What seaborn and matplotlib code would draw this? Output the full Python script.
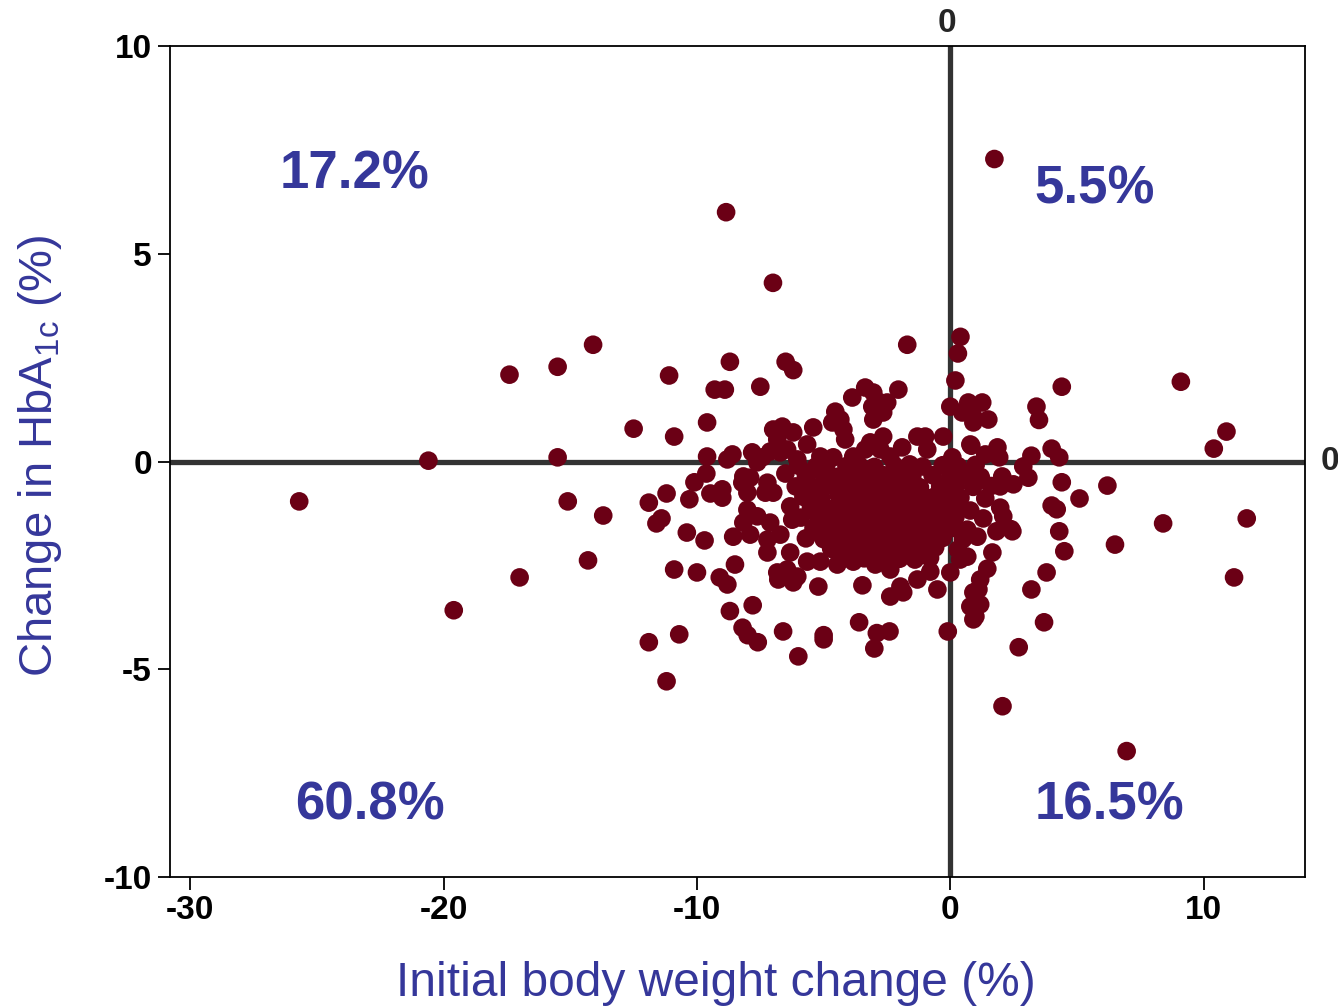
import matplotlib
matplotlib.use("Agg")
import matplotlib.pyplot as plt
import seaborn as sns
import pandas as pd

# Outlying patients (weight change %, HbA1c change %)
outer_x = [-25.7, -20.6, -19.6, -17.4, -17.0, -15.5, -15.5, -15.1, -14.3, -14.1,
           -13.7, -12.5, -11.9, -11.9, -11.6, -11.4, -11.2, -11.2, -11.1, -10.9,
           -10.9, -10.7, -10.4, -10.3, -10.1, -10.0, -9.7, -9.6, -9.6, -9.3,
           -9.1, -8.9, -8.85, -8.8, -8.7, -8.7, -8.5, -8.6, -8.2, -8.0,
           -7.8, -7.6, -7.5, -7.0, -6.6, -6.5, -6.2, -6.0, -5.0, -5.0,
           -3.6, -3.0, -2.9, -2.4, -1.7, -0.1, 0.4, 0.3, 0.2, 1.74,
           2.06, 6.96, 9.1, 10.4, 10.9, 11.2, 11.7, 8.4, 6.5, 6.2,
           5.1, 4.4, 4.5, 4.4, 4.3, 4.3, 4.2, 4.0, 4.0, 3.8,
           3.7, 3.5, 3.4, 3.2, 2.7, 2.4]
outer_y = [-0.96, 0.02, -3.58, 2.09, -2.79, 0.10, 2.28, -0.96, -2.38, 2.81,
           -1.30, 0.79, -4.35, -0.99, -1.49, -1.37, -5.29, -0.77, 2.07, -2.60,
           0.60, -4.16, -1.71, -0.91, -0.50, -2.67, -1.90, 0.12, 0.94, 1.73,
           -2.79, 1.73, 6.00, -2.96, -3.60, 2.40, -2.48, 0.17, -4.00, -4.18,
           -3.46, -4.35, 1.80, 4.30, -4.09, 2.40, 2.20, -4.69, -4.18, -4.28,
           -3.87, -4.50, -4.13, -4.09, 2.81, -4.09, 3.00, 2.60, 1.95, 7.28,
           -5.89, -6.97, 1.92, 0.31, 0.72, -2.79, -1.37, -1.49, -2.00, -0.58,
           -0.89, 1.80, -2.16, -0.50, 0.10, -1.68, -1.15, -1.06, 0.31, -2.67,
           -3.87, 1.00, 1.32, -3.08, -4.47, -1.63]

# Patients around the edge of the main cluster
edge_x = [-9.63, -8.80, -7.82, -7.62, -7.42, -6.99, -6.63, -6.83, -6.20, -7.11,
          -6.71, -6.44, -6.04, -6.51, -8.17, -8.21, -7.90, -8.01, -7.22, -7.30,
          -6.99, -9.47, -9.00, -9.00, -6.32, -6.24, -8.01, -7.62, -7.11, -8.17,
          -8.57, -7.90, -7.22, -6.71, -7.22, -6.32, -6.83, -6.44, -6.04, -6.79,
          -6.20, -5.65, -5.13, -5.21, -4.46, -3.83, -3.47, -2.96, -2.37, -2.37,
          -1.86, -1.97, -1.30, -0.79, -0.51, 0.00, 0.67, 0.39, 0.91, 0.79,
          0.91, 1.18, 0.99, 1.11, 1.18, 1.46, 1.66, -3.36, -2.05, -3.87,
          -3.04, -2.76, -3.08, -2.49, -3.04, -2.65, -4.54, -4.34, -4.66, -4.22,
          -4.15, -5.41, -2.65, -3.16, -1.30, -0.99, -0.28, -1.90, -0.91, -5.65,
          -5.13, -4.62, -3.83, -3.36, -2.76, -2.37, 0.00, 0.47, 0.71, 0.91,
          0.79, 0.08, 1.26, 0.91, 1.50, 0.83, 1.86, 1.93, 1.38, 3.20,
          2.88, 3.08, 2.05, 1.97, 2.49, 1.38, 0.79, 1.97, 2.09, 2.45,
          1.82, 1.07, 0.67]
edge_y = [-0.29, 0.05, 0.22, -0.02, 0.10, 0.77, 0.84, 0.53, 0.70, 0.24,
          0.22, 0.29, 0.05, -0.29, -0.36, -0.51, -0.39, -0.75, -0.51, -0.75,
          -0.75, -0.77, -0.67, -0.87, -1.08, -1.40, -1.16, -1.32, -1.47, -1.47,
          -1.81, -1.76, -1.88, -1.76, -2.19, -2.19, -2.67, -2.60, -2.77, -2.84,
          -2.91, -2.41, -2.41, -3.01, -2.48, -2.41, -2.98, -2.48, -2.60, -3.25,
          -3.15, -3.01, -2.84, -2.65, -3.08, -2.67, -2.29, -2.36, -3.15, -3.49,
          -3.80, -3.44, -3.73, -3.08, -2.84, -2.58, -2.19, 1.78, 1.73, 1.54,
          1.66, 1.42, 1.32, 1.42, 1.01, 1.18, 1.20, 1.01, 0.94, 0.77,
          0.53, 0.82, 0.60, 0.46, 0.60, 0.60, 0.60, 0.34, 0.29, 0.41,
          0.12, 0.10, 0.12, 0.29, 0.29, 0.12, 1.32, 1.18, 1.42, 1.08,
          0.41, 0.10, 1.42, 0.94, 1.01, 0.38, 0.34, 0.10, 0.17, 0.14,
          -0.12, -0.39, -0.36, -0.60, -0.55, -0.89, -1.18, -1.11, -1.32, -1.68,
          -1.68, -1.81, -1.64]

# Patients in the dense core of the cluster
core_x = [-6.0, -5.3, -4.9, -4.1, -3.6, -3.0, -2.2, -1.6, -1.1, -0.3, 0.3, 1.0,
          -5.7, -5.0, -4.5, -4.0, -3.3, -2.7, -2.0, -1.5, -0.7, 0.0, 0.6, 1.2,
          -6.1, -5.4, -4.8, -4.2, -3.7, -3.1, -2.5, -1.8, -1.2, -0.4, 0.2, 0.9, 1.6,
          -5.8, -5.1, -4.4, -3.9, -3.4, -2.8, -2.2, -1.6, -1.0, -0.6, 0.4,
          -5.5, -4.9, -4.3, -3.6, -3.0, -2.4, -1.9, -1.3, -0.8, -0.2, 0.3,
          -5.9, -5.2, -4.6, -4.1, -3.4, -2.7, -2.1, -1.5, -0.9, -0.4, 0.2, 1.3,
          -5.4, -4.8, -4.3, -3.7, -3.1, -2.5, -1.9, -1.2, -0.6, 0.1,
          -5.7, -5.0, -4.4, -3.9, -3.3, -2.8, -2.2, -1.6, -0.9, -0.3, 0.5,
          -4.7, -4.1, -3.6, -3.0, -2.4, -1.8, -1.2, -0.6, 0.3,
          -4.3, -3.4, -2.7, -2.0, -1.4, -0.8,
          -2.6, -1.7, -3.2, -0.5, -4.8, -2.9, -1.3, -3.8, -2.1, -0.1]
core_y = [-0.10, -0.12, -0.08, -0.11, -0.09, -0.13, -0.10, -0.07, -0.12, -0.09, -0.11, -0.08,
          -0.35, -0.33, -0.37, -0.34, -0.36, -0.32, -0.38, -0.35, -0.33, -0.36, -0.34, -0.37,
          -0.60, -0.62, -0.58, -0.61, -0.59, -0.63, -0.60, -0.57, -0.62, -0.60, -0.58, -0.61, -0.59,
          -0.85, -0.87, -0.83, -0.86, -0.84, -0.88, -0.85, -0.82, -0.86, -0.84, -0.87,
          -1.10, -1.12, -1.08, -1.11, -1.09, -1.13, -1.10, -1.07, -1.12, -1.09, -1.11,
          -1.35, -1.33, -1.37, -1.34, -1.36, -1.32, -1.38, -1.35, -1.33, -1.36, -1.34, -1.37,
          -1.60, -1.62, -1.58, -1.61, -1.59, -1.63, -1.60, -1.57, -1.62, -1.60,
          -1.85, -1.87, -1.83, -1.86, -1.84, -1.88, -1.85, -1.82, -1.86, -1.84, -1.87,
          -2.10, -2.12, -2.08, -2.11, -2.09, -2.13, -2.10, -2.07, -2.12,
          -2.35, -2.33, -2.37, -2.34, -2.36, -2.32,
          -0.48, -0.72, -0.98, -1.22, -1.48, -1.72, -1.97, -0.22, -2.25, -0.75]

# Share of patients in each quadrant
quad_labels = ["17.2%", "5.5%", "60.8%", "16.5%"]
quad_x = [-23.5, 5.7, -22.9, 6.3]
quad_y = [6.90, 6.55, -8.28, -8.28]

df = pd.DataFrame({
    "weight": outer_x + edge_x + core_x,
    "hba1c": outer_y + edge_y + core_y,
})

sns.set_theme(style="ticks")
plt.rcParams["font.family"] = ["Liberation Sans", "DejaVu Sans"]
plt.rcParams["mathtext.fontset"] = "custom"
plt.rcParams["mathtext.rm"] = "Liberation Sans"
plt.rcParams["axes.unicode_minus"] = False

W, H = 1338, 1007
fig = plt.figure(figsize=(W / 100, H / 100), dpi=100)
ax = fig.add_axes([170 / W, 1 - 877 / H, (1305 - 170) / W, (877 - 46) / H])

line_col = "#333333"
ax.axhline(0, color=line_col, lw=3.8, zorder=1)
ax.axvline(0, color=line_col, lw=3.8, zorder=1)

sns.scatterplot(data=df, x="weight", y="hba1c", ax=ax, color="#6b0015",
                s=180, edgecolor="none", linewidth=0, zorder=3, legend=False)

ax.set_xlim(-30.8, 14.0)
ax.set_ylim(-10, 10)
ax.set_xticks([-30, -20, -10, 0, 10])
ax.set_yticks([-10, -5, 0, 5, 10])
ax.tick_params(direction="out", length=9, width=1.3, labelsize=24, colors="black", pad=4)
for lab in ax.get_xticklabels() + ax.get_yticklabels():
    lab.set_fontweight("bold")
for sp in ax.spines.values():
    sp.set_visible(True)
    sp.set_linewidth(1.3)
    sp.set_color("black")

label_col = "#35379a"
ax.set_xlabel("Initial body weight change (%)", fontsize=34.5, color=label_col)
ax.set_ylabel(r"Change in HbA$_{\mathregular{1c}}$ (%)", fontsize=34, color=label_col)
ax.xaxis.set_label_coords((716 - 170) / 1135, (877 - 983) / 831)
ax.xaxis.label.set_va("center")
ax.yaxis.set_label_coords((40 - 170) / 1135, (877 - 456) / 831)
ax.yaxis.label.set_va("center")

for t, x, y in zip(quad_labels, quad_x, quad_y):
    ax.text(x, y, t, fontsize=38, fontweight="bold", color=label_col,
            ha="center", va="center")

# zero markers at the ends of the reference lines
ax.text(-0.15, 10.53, "0", fontsize=24, fontweight="bold", ha="center", va="center",
        clip_on=False)
ax.text(15.0, 0, "0", fontsize=24, fontweight="bold", ha="center", va="center",
        clip_on=False)

fig.savefig("out.png", dpi=100)
